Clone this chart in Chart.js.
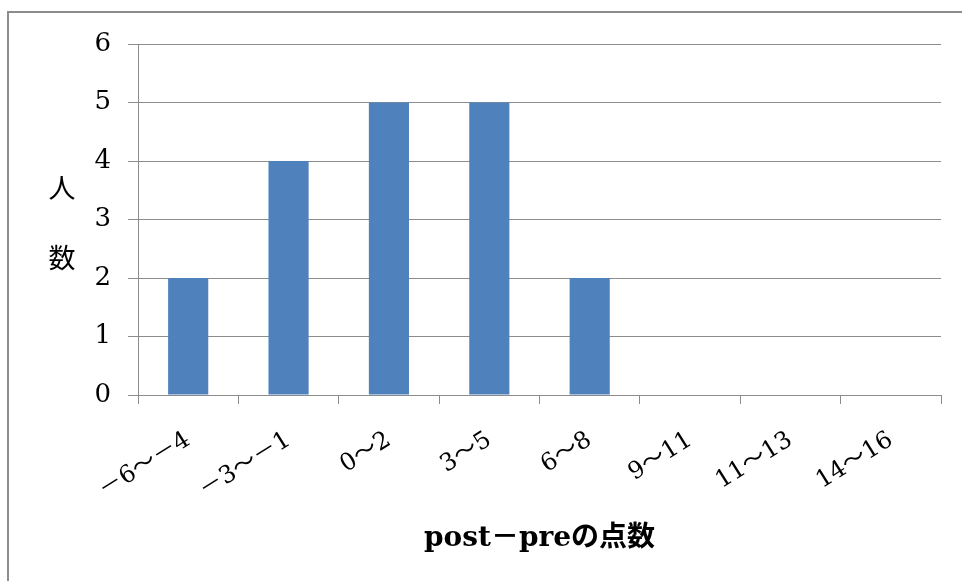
<!DOCTYPE html>
<html>
<head>
<meta charset="utf-8">
<script src="https://cdn.jsdelivr.net/npm/chart.js@4/dist/chart.umd.min.js"></script>
<style>
  html, body { margin: 0; padding: 0; background: #fff; }
  #wrap { position: relative; width: 962px; height: 581px; overflow: hidden; }
  #frame {
    position: absolute; left: 7px; top: 11px; width: 980px; height: 600px;
    border-left: 2px solid #8c8c8c; border-top: 2px solid #8c8c8c;
  }
  #ctx { position: absolute; left: 0; top: 0; }
</style>
</head>
<body>
<div id="wrap">
  <div id="frame"></div>
  <canvas id="ctx" width="962" height="581"></canvas>
</div>
<script>
// score difference bins and head counts
const categories = ['－6～－4', '－3～－1', '0～2', '3～5', '6～8', '9～11', '11～13', '14～16'];
const counts = [2, 4, 5, 5, 2, 0, 0, 0];
const yTicks = [0, 1, 2, 3, 4, 5, 6];
const xTitle = 'post－preの点数';
const yTitleChars = ['人', '数'];

const serif = '"DejaVu Serif", "Liberation Serif", "Noto Sans CJK JP", serif';
const gridColor = '#8c8c8c';

// vertical axis title, one character per line
const verticalTitle = {
  id: 'verticalTitle',
  afterDraw(chart) {
    const ctx = chart.ctx;
    ctx.save();
    ctx.fillStyle = '#000';
    ctx.font = '27px "Noto Sans CJK JP", sans-serif';
    ctx.textAlign = 'center';
    ctx.textBaseline = 'middle';
    ctx.fillText(yTitleChars[0], 62, 188);
    ctx.fillText(yTitleChars[1], 62, 258);
    ctx.restore();
  }
};

const ctx = document.getElementById('ctx');
new Chart(ctx, {
  type: 'bar',
  data: {
    labels: categories,
    datasets: [{
      data: counts,
      backgroundColor: '#4f81bd',
      barPercentage: 0.5,
      categoryPercentage: 0.8,
    }],
  },
  options: {
    responsive: false,
    animation: false,
    layout: { padding: { left: 0, right: 21, top: 44, bottom: 0 } },
    plugins: {
      legend: { display: false },
      tooltip: { enabled: false },
    },
    scales: {
      x: {
        grid: {
          offset: true,
          drawOnChartArea: false,
          drawTicks: true,
          tickLength: 9,
          color: gridColor,
          lineWidth: 1,
        },
        border: { display: false },
        ticks: {
          color: '#000',
          font: { family: serif, size: 24 },
          minRotation: 32,
          maxRotation: 32,
          padding: 22,
          autoSkip: false,
        },
        title: {
          display: true,
          text: xTitle,
          color: '#000',
          font: { family: serif, size: 28, weight: 'bold' },
          padding: 25,
        },
        afterFit(scale) { scale.height = 186; },
      },
      y: {
        min: 0,
        max: 6,
        afterBuildTicks(scale) { scale.ticks = yTicks.map(v => ({ value: v })); },
        grid: {
          color: gridColor,
          lineWidth: 1,
          tickLength: 10,
        },
        border: { display: true, color: gridColor, width: 1 },
        ticks: {
          color: '#000',
          font: { family: serif, size: 26 },
          padding: 17,
        },
        afterFit(scale) { scale.width = 138; },
      },
    },
  },
  plugins: [verticalTitle],
});
</script>
</body>
</html>
